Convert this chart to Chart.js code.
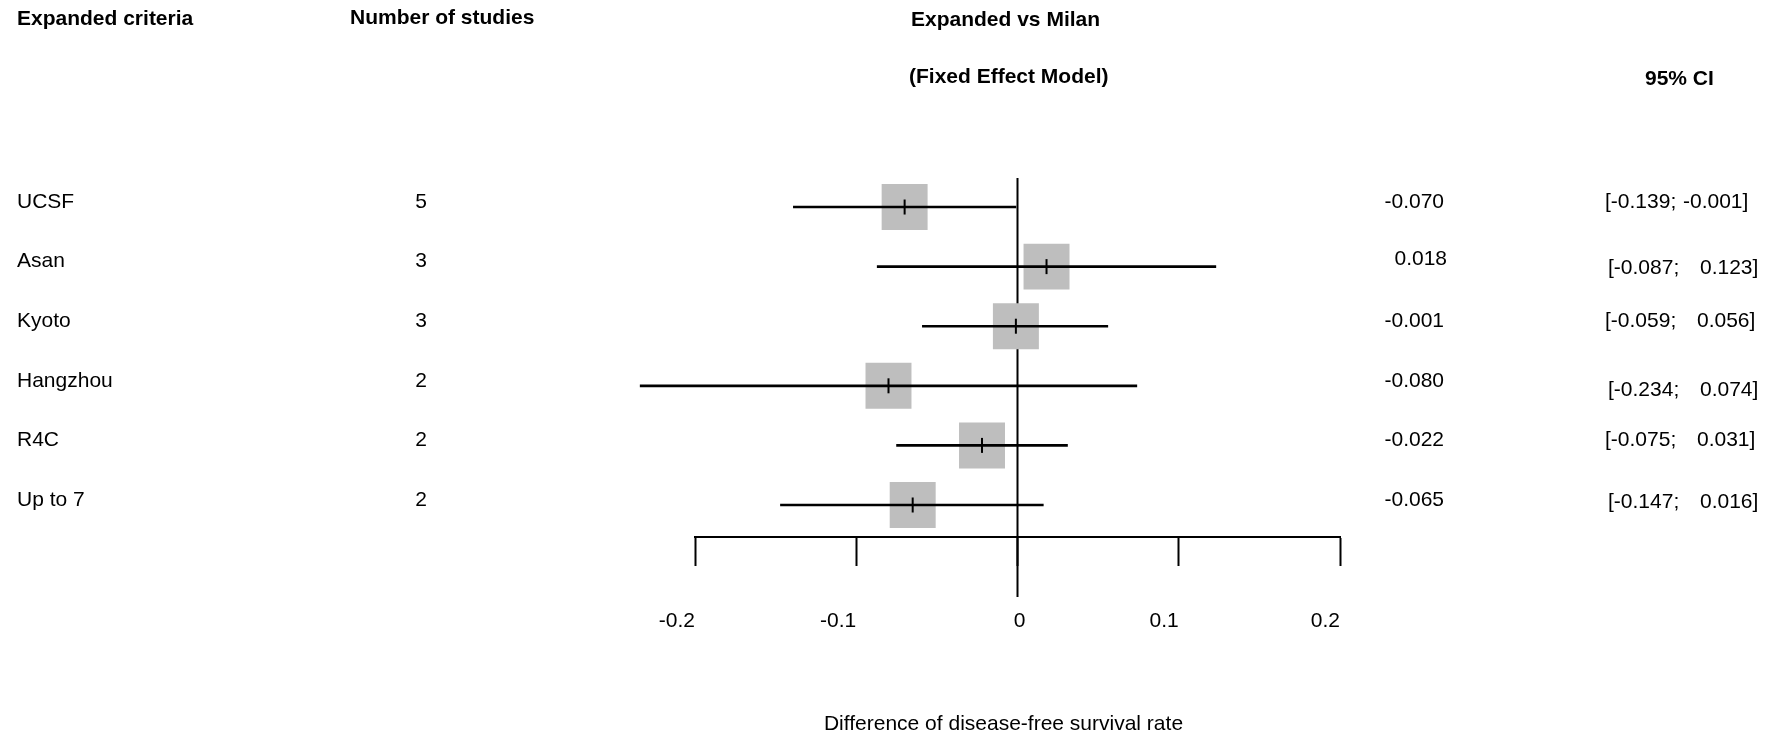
<!DOCTYPE html>
<html>
<head>
<meta charset="utf-8">
<script src="https://cdn.jsdelivr.net/npm/chart.js@4.4.1/dist/chart.umd.min.js"></script>
<style>
  html, body { margin: 0; padding: 0; background: #fff; }
  #wrap { width: 1772px; height: 737px; }
</style>
</head>
<body>
<div id="wrap"><canvas id="forest" width="1772" height="737"></canvas></div>
<script>
var criteria = ['UCSF', 'Asan', 'Kyoto', 'Hangzhou', 'R4C', 'Up to 7'];
var studies = [5, 3, 3, 2, 2, 2];
var estimates = [-0.070, 0.018, -0.001, -0.080, -0.022, -0.065];
var ciLower = [-0.139, -0.087, -0.059, -0.234, -0.075, -0.147];
var ciUpper = [-0.001, 0.123, 0.056, 0.074, 0.031, 0.016];
var axisMin = -0.2;
var axisMax = 0.2;
var axisStep = 0.1;

var rows = criteria.map(function (c, i) { return i + 1; });

// text in the original is not perfectly lined up, these nudge it a little
var estShift = [[0, 0], [3, -2], [0, 0], [0, 0], [0, 0], [0, 0]];
var ciShift = [[0, 0], [3, 7], [0, 0], [3, 9], [0, 0], [3, 2]];

var FONT = "'Liberation Sans', Arial, sans-serif";

function fmt3(v) {
    return v.toFixed(3);
}

var zeroLine = {
    id: 'zeroLine',
    beforeDatasetsDraw: function (chart) {
        var ctx = chart.ctx;
        var area = chart.chartArea;
        var x0 = chart.scales.x.getPixelForValue(0);
        ctx.save();
        ctx.strokeStyle = '#000';
        ctx.lineWidth = 2;
        ctx.beginPath();
        ctx.moveTo(x0, area.top);
        ctx.lineTo(x0, area.bottom + 60);
        ctx.stroke();
        ctx.restore();
    }
};

var forestText = {
    id: 'forestText',
    afterDraw: function (chart) {
        var ctx = chart.ctx;
        var xs = chart.scales.x;
        var ys = chart.scales.y;
        ctx.save();
        ctx.fillStyle = '#000';
        ctx.textBaseline = 'middle';

        // column headers
        ctx.font = 'bold 21px ' + FONT;
        ctx.textAlign = 'left';
        ctx.fillText('Expanded criteria', 17, 19);
        ctx.fillText('Number of studies', 350, 18);
        ctx.fillText('Expanded vs Milan', 911, 20);
        ctx.fillText('(Fixed Effect Model)', 909, 77);
        ctx.fillText('95% CI', 1645, 79);

        ctx.font = '21px ' + FONT;
        rows.forEach(function (r, i) {
            var y = ys.getPixelForValue(r) - 5;
            ctx.textAlign = 'left';
            ctx.fillText(criteria[i], 17, y);
            ctx.textAlign = 'center';
            ctx.fillText(String(studies[i]), 421, y);
            ctx.textAlign = 'right';
            ctx.fillText(fmt3(estimates[i]), 1444 + estShift[i][0], y + estShift[i][1]);
            var cx = 1605 + ciShift[i][0];
            var cy = y + ciShift[i][1];
            ctx.textAlign = 'left';
            ctx.fillText('[' + fmt3(ciLower[i]) + ';', cx, cy);
            ctx.fillText(fmt3(ciUpper[i]) + ']', cx + (ciUpper[i] < 0 ? 78 : 92), cy);
        });

        // tick labels sit to the left of their tick, except the zero
        xs.ticks.forEach(function (t) {
            var px = xs.getPixelForValue(t.value);
            var v = Math.round(t.value * 10) / 10;
            if (v === 0) {
                ctx.textAlign = 'center';
                ctx.fillText('0', px + 2, 621);
            } else {
                ctx.textAlign = 'right';
                ctx.fillText(v.toFixed(1), px, 621);
            }
        });

        ctx.textAlign = 'center';
        ctx.fillText('Difference of disease-free survival rate', (xs.left + xs.right) / 2 - 14, 724);
        ctx.restore();
    }
};

var ctx = document.getElementById('forest').getContext('2d');
var forestChart = new Chart(ctx, {
    type: 'scatter',
    data: {
        datasets: [{
            label: 'Estimate',
            type: 'scatter',
            data: estimates.map(function (e, i) { return { x: e, y: rows[i] }; }),
            pointStyle: 'line',
            rotation: 90,
            pointRadius: 7.5,
            borderColor: '#000',
            borderWidth: 2,
            clip: false,
            order: 1
        }, {
            label: '95% CI',
            type: 'bar',
            indexAxis: 'y',
            data: rows.map(function (r, i) { return { x: [ciLower[i], ciUpper[i]], y: r }; }),
            backgroundColor: '#000',
            borderWidth: 0,
            barThickness: 2,
            clip: false,
            order: 2
        }, {
            label: 'Weight',
            type: 'scatter',
            data: estimates.map(function (e, i) { return { x: e, y: rows[i] }; }),
            pointStyle: 'rect',
            pointRadius: 32.5,
            backgroundColor: '#bebebe',
            borderWidth: 0,
            clip: false,
            order: 3
        }]
    },
    options: {
        responsive: false,
        animation: false,
        events: [],
        layout: {
            padding: { left: 695, right: 432, top: 178, bottom: 0 }
        },
        plugins: {
            legend: { display: false },
            tooltip: { enabled: false }
        },
        scales: {
            x: {
                type: 'linear',
                min: axisMin,
                max: axisMax,
                offset: false,
                afterFit: function (scale) { scale.height = 200; },
                border: { display: true, color: '#000', width: 2 },
                grid: {
                    offset: false,
                    drawOnChartArea: false,
                    drawTicks: true,
                    tickLength: 29,
                    tickWidth: 2,
                    tickColor: '#000'
                },
                ticks: { display: false, stepSize: axisStep }
            },
            y: {
                type: 'linear',
                display: false,
                reverse: true,
                offset: false,
                min: 0.513,
                max: 6.537
            }
        }
    },
    plugins: [zeroLine, forestText]
});
</script>
</body>
</html>
